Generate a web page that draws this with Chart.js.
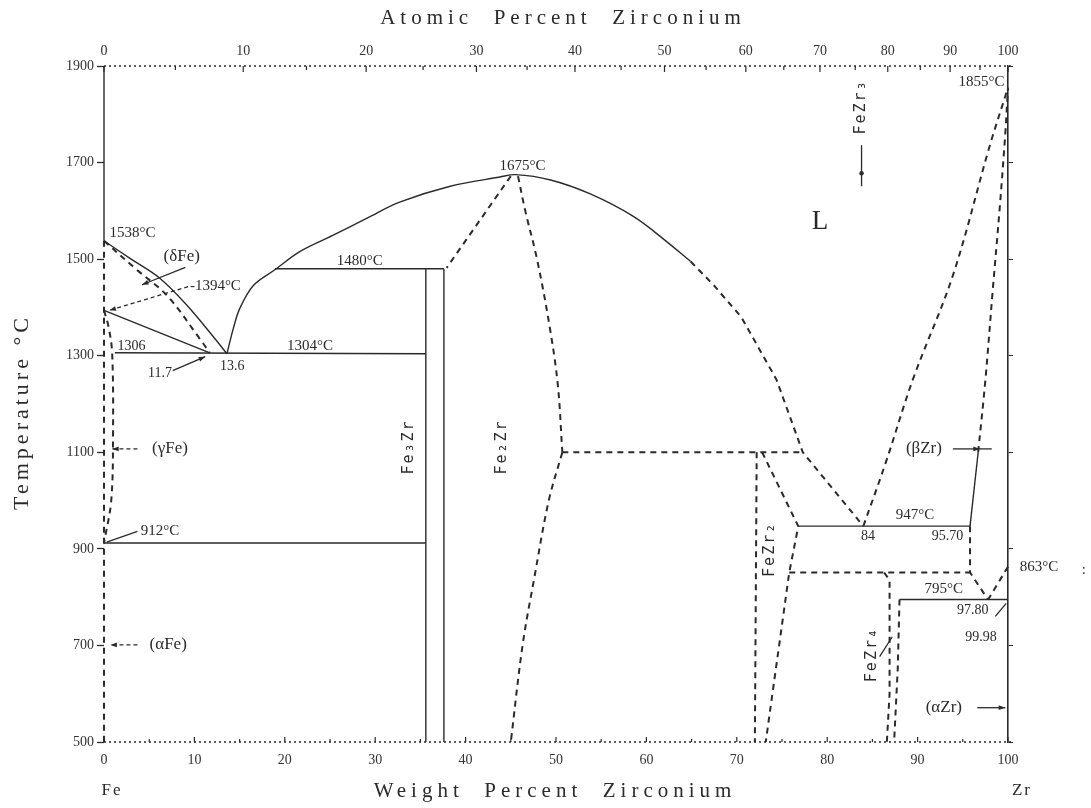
<!DOCTYPE html>
<html>
<head>
<meta charset="utf-8">
<title>Fe-Zr phase diagram</title>
<script src="https://cdn.jsdelivr.net/npm/chart.js@4.4.1/dist/chart.umd.min.js"></script>
<style>
  html, body { margin: 0; padding: 0; background: #fff; }
  #wrap { width: 1091px; height: 808px; }
</style>
</head>
<body>
<div id="wrap"><canvas id="phaseChart" width="1091" height="808"></canvas></div>
<script>
// all curves are [weight % Zr, temperature °C]
const liquidusFeSide = [[0,1538],[3,1500],[6.2,1460],[9.2,1404],[12.5,1330],[13.6,1304]];
const deltaSolidus = [[0,1538],[3.5,1480],[7,1424],[10.6,1335],[11.7,1306]];
const deltaGamma = [[0,1394],[11.7,1306]];
const gammaSolvus = [[0,1394],[0.5,1360],[0.9,1306],[1.0,1140],[0.8,1000],[0,912]];
const ironEdgeSolid = [[0,1900],[0,1538]];
const ironEdgeDashed = [[0,1538],[0,500]];
const line1304 = [[1.2,1306],[35.6,1304]];
const line912 = [[0,912],[35.6,912]];
const line1480 = [[18.9,1480],[37.6,1480]];
const fe3zrLeft = [[35.6,500],[35.6,1480]];
const fe3zrRight = [[37.6,500],[37.6,1480]];
const liquidusMid = [[13.6,1304],[14.3,1356],[15,1397],[16.5,1445],[18.9,1478],[21.7,1516],[25.3,1549],
  [29.1,1585],[32.7,1618],[38.3,1651],[43.8,1670],[45.5,1675],[49.4,1664],[53.8,1635],[58.6,1588],[62,1540],[64.9,1495]];
const liquidusZrSide = [[64.9,1495],[67.5,1445],[70.5,1380],[74.4,1250],[77.3,1100],[84,947]];
const fe2zrLeft = [[45,1672],[37.9,1482]];
const fe2zrRightHigh = [[45.8,1672],[46.6,1600],[47.9,1500],[49.3,1360],[50.2,1240],[50.7,1100]];
const fe2zrRightLow = [[50.7,1100],[49.2,1000],[47.6,840],[46.3,700],[45,500]];
const peritectic1100 = [[50.7,1100],[77.3,1100]];
const feZr2Left = [[72.2,1100],[72,500]];
const feZr2Right = [[72.8,1100],[76.8,947],[75.8,851],[73.2,500]];
const eutectic947 = [[76.8,947],[95.8,947]];
const peritectoid851 = [[75.8,851],[95.8,851]];
const feZr4Left = [[86.3,851],[86.9,835],[86.9,600],[86.6,500]];
const feZr4Right = [[88,795],[87.8,650],[87.4,500]];
const eutectoid795 = [[88,795],[100,795]];
const betaSolvus = [[95.8,947],[95.8,851],[97.8,795]];
const alphaBetaZr = [[100,863],[97.8,795]];
const betaSolidusLow = [[95.8,947],[96.7,1100]];
const betaSolidusHigh = [[96.7,1100],[97.5,1250],[98.3,1433],[99.1,1610],[99.7,1760],[100,1855]];
const betaLiquidus = [[84,947],[86.5,1080],[89.5,1252],[93.9,1466],[98,1736],[100,1855]];

// axis ticks
const tempTicks = [500,700,900,1100,1300,1500,1700,1900];
const weightTicks = [0,10,20,30,40,50,60,70,80,90,100];
const atomicLabels = ['0','10','20','30','40','50','60','70','80','90','100'];
const atomicAtWeight = [0,15.4,29.0,41.2,52.1,62.0,71.0,79.2,86.7,93.6,100];
const atomicMinorAtWeight = [7.9,22.4,35.3,46.8,57.2,66.6,75.2,83.1,90.3,96.9];

const ink = '#2a2a2a';
const serif = '"Liberation Serif", "DejaVu Serif", serif';
const mono = '"DejaVu Sans Mono", "Liberation Mono", monospace';

// [points, dashed, curved]
const curves = [
  [liquidusFeSide, false, true], [deltaSolidus, true, true], [deltaGamma, false, false],
  [gammaSolvus, true, true], [ironEdgeSolid, false, false], [ironEdgeDashed, true, false],
  [line1304, false, false], [line912, false, false], [line1480, false, false],
  [fe3zrLeft, false, false], [fe3zrRight, false, false], [liquidusMid, false, true],
  [liquidusZrSide, true, false], [fe2zrLeft, true, false], [fe2zrRightHigh, true, true],
  [fe2zrRightLow, true, true], [peritectic1100, true, false], [feZr2Left, true, false],
  [feZr2Right, true, false], [eutectic947, false, false], [peritectoid851, true, false],
  [feZr4Left, true, false], [feZr4Right, true, false], [eutectoid795, false, false],
  [betaSolvus, true, false], [alphaBetaZr, true, false], [betaSolidusLow, false, false],
  [betaSolidusHigh, true, true], [betaLiquidus, true, true]
];

// text on the diagram, placed in data units
const notes = [
  { text: '1538°C', x: 0.6, y: 1553, align: 'left' },
  { text: '(δFe)', x: 8.6, y: 1505, size: 17 },
  { text: '-1394°C', x: 9.5, y: 1445, align: 'left' },
  { text: '1306', x: 1.5, y: 1320, align: 'left', size: 14 },
  { text: '11.7', x: 6.2, y: 1264, size: 14 },
  { text: '13.6', x: 14.2, y: 1277, size: 14 },
  { text: '1304°C', x: 22.8, y: 1320 },
  { text: '1480°C', x: 28.3, y: 1497 },
  { text: '1675°C', x: 46.3, y: 1692 },
  { text: 'L', x: 79.2, y: 1578, size: 27 },
  { text: 'FeZr₃', x: 83.8, y: 1815, rot: true },
  { text: '1855°C', x: 99.6, y: 1866, align: 'right' },
  { text: '(βZr)', x: 90.7, y: 1107, size: 17 },
  { text: '947°C', x: 89.7, y: 970 },
  { text: '84', x: 84.5, y: 925, size: 14 },
  { text: '95.70', x: 93.3, y: 925, size: 14 },
  { text: 'FeZr₂', x: 73.7, y: 899, rot: true },
  { text: '795°C', x: 92.9, y: 817 },
  { text: '97.80', x: 96.1, y: 772, size: 14 },
  { text: '99.98', x: 97.0, y: 716, size: 14 },
  { text: '863°C', x: 101.3, y: 862, align: 'left' },
  { text: ':', x: 108.4, y: 857 },
  { text: '(αZr)', x: 92.9, y: 571, size: 17 },
  { text: 'FeZr₄', x: 85.0, y: 681, rot: true },
  { text: 'Fe₃Zr', x: 33.7, y: 1111, rot: true },
  { text: 'Fe₂Zr', x: 44.0, y: 1111, rot: true },
  { text: '(γFe)', x: 7.3, y: 1107, size: 17 },
  { text: '912°C', x: 6.2, y: 936 },
  { text: '(αFe)', x: 7.1, y: 701, size: 17 }
];

// leader lines: from, to, arrowhead at "to", dashed
const leaders = [
  [[9.0,1483],[4.2,1447], true, false],
  [[9.3,1443],[0.6,1394], true, true],
  [[7.6,1269],[11.2,1298], true, false],
  [[3.7,936],[0.3,914], false, false],
  [[3.7,1107],[0.9,1107], true, true],
  [[3.7,701],[0.7,701], true, true],
  [[93.9,1107],[96.9,1107], true, false],
  [[96.9,1107],[98.2,1107], false, false],
  [[96.6,571],[99.7,571], true, false],
  [[83.8,1736],[83.8,1651], false, false],
  [[85.8,677],[87.2,718], false, false],
  [[98.6,760],[99.8,787], false, false]
];

function toDataset(points, dashed, curved) {
  return {
    data: points.map(p => ({ x: p[0], y: p[1] })),
    showLine: true,
    pointRadius: 0,
    borderColor: ink,
    borderWidth: dashed ? 2 : 1.4,
    borderDash: dashed ? [6, 5] : [],
    tension: curved ? 0.35 : 0,
    clip: false,
    fill: false
  };
}

const diagramNotes = {
  id: 'diagramNotes',
  afterDraw(chart) {
    const { ctx, chartArea: a } = chart;
    const xs = chart.scales.x, ys = chart.scales.y;
    const px = v => xs.getPixelForValue(v);
    const py = v => ys.getPixelForValue(v);
    const seg = (x1, y1, x2, y2) => { ctx.beginPath(); ctx.moveTo(x1, y1); ctx.lineTo(x2, y2); ctx.stroke(); };

    ctx.save();
    ctx.strokeStyle = ink;
    ctx.fillStyle = ink;

    // dotted top and bottom edges with inward ticks
    ctx.lineWidth = 1.6;
    ctx.setLineDash([2, 3]);
    seg(a.left, a.top, a.right + 3, a.top);
    seg(a.left, a.bottom, a.right + 3, a.bottom);
    ctx.setLineDash([]);
    ctx.lineWidth = 1.2;
    for (let v = 0; v <= 100; v += 5) {
      const len = v % 10 === 0 ? 5 : 3;
      seg(px(v), a.bottom, px(v), a.bottom - len);
    }
    atomicAtWeight.forEach(v => seg(px(v), a.top, px(v), a.top + 6));
    atomicMinorAtWeight.forEach(v => seg(px(v), a.top, px(v), a.top + 4));

    // leader lines and arrowheads
    leaders.forEach(([p, q, head, dashed]) => {
      const x1 = px(p[0]), y1 = py(p[1]), x2 = px(q[0]), y2 = py(q[1]);
      ctx.lineWidth = 1.3;
      ctx.setLineDash(dashed ? [4, 3] : []);
      seg(x1, y1, x2, y2);
      ctx.setLineDash([]);
      if (head) {
        const ang = Math.atan2(y2 - y1, x2 - x1);
        ctx.beginPath();
        ctx.moveTo(x2, y2);
        ctx.lineTo(x2 - 7 * Math.cos(ang - 0.35), y2 - 7 * Math.sin(ang - 0.35));
        ctx.lineTo(x2 - 7 * Math.cos(ang + 0.35), y2 - 7 * Math.sin(ang + 0.35));
        ctx.closePath();
        ctx.fill();
      }
    });
    // the dot on the FeZr3 marker
    ctx.beginPath();
    ctx.arc(px(83.8), py(1678), 2.2, 0, Math.PI * 2);
    ctx.fill();

    // labels
    ctx.textBaseline = 'middle';
    notes.forEach(n => {
      ctx.save();
      ctx.translate(px(n.x), py(n.y));
      if (n.rot) {
        ctx.rotate(-Math.PI / 2);
        ctx.font = '15px ' + mono;
        ctx.letterSpacing = '2px';
      } else {
        ctx.font = (n.size || 15) + 'px ' + serif;
      }
      ctx.textAlign = n.align || 'center';
      ctx.fillText(n.text, 0, 0);
      ctx.restore();
    });

    // axis titles and element names
    ctx.textAlign = 'center';
    ctx.font = '21px ' + serif;
    ctx.letterSpacing = '5px';
    ctx.fillText('Atomic  Percent  Zirconium', 563, 18);
    ctx.fillText('Weight  Percent  Zirconium', 555, 791);
    ctx.save();
    ctx.translate(22, 412);
    ctx.rotate(-Math.PI / 2);
    ctx.font = '22px ' + serif;
    ctx.letterSpacing = '4px';
    ctx.fillText('Temperature °C', 0, 0);
    ctx.restore();
    ctx.letterSpacing = '2px';
    ctx.font = '17px ' + serif;
    ctx.fillText('Fe', px(0) + 8, 791);
    ctx.fillText('Zr', px(100) + 14, 791);
    ctx.restore();
  }
};

const tickFont = { family: serif, size: 14 };

new Chart(document.getElementById('phaseChart'), {
  type: 'scatter',
  data: { datasets: curves.map(c => toDataset(c[0], c[1], c[2])) },
  plugins: [diagramNotes],
  options: {
    responsive: false,
    animation: false,
    devicePixelRatio: 1,
    layout: { padding: 0 },
    plugins: { legend: { display: false }, tooltip: { enabled: false } },
    scales: {
      x: {
        type: 'linear', position: 'bottom', min: 0, max: 100,
        afterFit: s => { s.height = 66; },
        afterBuildTicks: s => { s.ticks = weightTicks.map(v => ({ value: v })); },
        ticks: { color: '#333', font: tickFont, padding: 2, maxRotation: 0, autoSkip: false,
                 callback: v => String(v) },
        grid: { display: false },
        border: { display: false }
      },
      x2: {
        type: 'linear', position: 'top', min: 0, max: 100,
        afterFit: s => { s.height = 66; },
        afterBuildTicks: s => { s.ticks = atomicAtWeight.map(v => ({ value: v })); },
        ticks: { color: '#333', font: tickFont, padding: -2, maxRotation: 0, autoSkip: false,
                 callback: (v, i) => atomicLabels[i] },
        grid: { display: false },
        border: { display: false }
      },
      y: {
        type: 'linear', position: 'left', min: 500, max: 1900,
        afterFit: s => { s.width = 104; },
        afterBuildTicks: s => { s.ticks = tempTicks.map(v => ({ value: v })); },
        ticks: { color: '#333', font: tickFont, padding: 3, callback: v => String(v) },
        grid: { display: true, drawOnChartArea: false, drawTicks: true, tickLength: 7, color: ink, tickWidth: 1.3 },
        border: { display: false }
      },
      y2: {
        type: 'linear', position: 'right', min: 500, max: 1900,
        afterFit: s => { s.width = 83; },
        afterBuildTicks: s => { s.ticks = tempTicks.map(v => ({ value: v })); },
        ticks: { display: false },
        grid: { display: true, drawOnChartArea: false, drawTicks: true, tickLength: 5, color: ink, tickWidth: 1 },
        border: { display: true, color: ink, width: 1.6 }
      }
    }
  }
});
</script>
</body>
</html>
